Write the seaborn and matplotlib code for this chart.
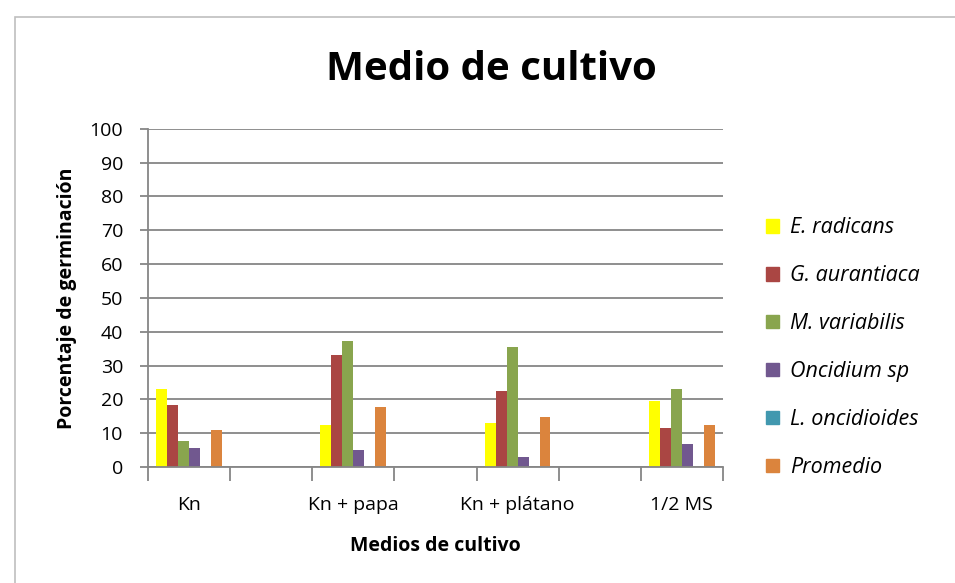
import numpy as np
import pandas as pd
import seaborn as sns
import matplotlib.pyplot as plt
from matplotlib.patches import Rectangle

medios = ['Kn', 'Kn + papa', 'Kn + plátano', '1/2 MS']
especies = ['E. radicans', 'G. aurantiaca', 'M. variabilis', 'Oncidium sp', 'L. oncidioides', 'Promedio']
e_radicans = [23.1, 12.5, 13.1, 19.6]
g_aurantiaca = [18.4, 33.1, 22.5, 11.4]
m_variabilis = [7.8, 37.3, 35.5, 23.1]
oncidium = [5.5, 4.9, 3.1, 6.7]
l_oncidioides = [0, 0, 0, 0]
promedio = [10.8, 17.8, 14.9, 12.5]
colores = ['#FFFF00', '#AA4643', '#89A54E', '#71588F', '#4198AF', '#DB843D']

valores = [e_radicans, g_aurantiaca, m_variabilis, oncidium, l_oncidioides, promedio]
rows = []
for esp, vals in zip(especies, valores):
    for m, v in zip(medios, vals):
        rows.append((m, esp, v))
df = pd.DataFrame(rows, columns=['medio', 'especie', 'pct'])

# Excel deja categorias vacias entre los medios
orden = ['Kn', ' ', 'Kn + papa', '  ', 'Kn + plátano', '   ', '1/2 MS']

sns.set_theme(style='white')
plt.rcParams['font.family'] = ['Open Sans', 'DejaVu Sans']
plt.rcParams['text.color'] = 'black'
plt.rcParams['axes.labelcolor'] = 'black'
gris = '#868686'

fig = plt.figure(figsize=(9.55, 5.83), dpi=100)
ax = fig.add_axes([0.155, 0.199, 0.602, 0.580])
sns.barplot(data=df, x='medio', y='pct', hue='especie', order=orden, hue_order=especies,
            palette=colores, width=0.8, saturation=1, linewidth=0, ax=ax, legend=False)

ax.set_xlim(-0.5, 6.5)
ax.set_ylim(0, 100)
ax.set_yticks(np.arange(0, 101, 10))
ax.yaxis.grid(True, color=gris, linewidth=1.3)
ax.set_axisbelow(True)
ax.tick_params(axis='y', length=6, width=1.3, color=gris, labelcolor='black', direction='out',
               labelsize=14, pad=12, left=True)

ax.set_xticks(np.arange(-0.5, 7, 1))
ax.set_xticklabels([''] * 8)
ax.set_xticks([0, 2, 4, 6], minor=True)
ax.set_xticklabels(medios, minor=True)
ax.tick_params(axis='x', which='major', length=10, width=1.3, color=gris, direction='out', bottom=True)
ax.tick_params(axis='x', which='minor', length=0, labelsize=14, labelcolor='black', pad=21)

for s in ['top', 'right']:
    ax.spines[s].set_visible(False)
for s in ['left', 'bottom']:
    ax.spines[s].set_color(gris)
    ax.spines[s].set_linewidth(1.3)

ax.set_xlabel('Medios de cultivo', fontsize=14, fontweight='bold', labelpad=16)
ax.set_ylabel('Porcentaje de germinación', fontsize=14, fontweight='bold', labelpad=9)

fig.text(491 / 955, 1 - 70 / 583, 'Medio de cultivo', ha='center', va='center',
         fontsize=29, fontweight='bold')

handles = [Rectangle((0, 0), 1, 1, color=c) for c in colores]
ax.legend(handles, especies, loc='upper left', bbox_to_anchor=(747 / 955, 1 - 198 / 583),
          bbox_transform=fig.transFigure, frameon=False,
          prop={'style': 'italic', 'size': 15.5}, handlelength=0.6, handleheight=0.6,
          handletextpad=0.5, labelspacing=1.25)

fig.add_artist(Rectangle((15 / 955, -0.1), 1.2, 1 - 17 / 583 + 0.1, transform=fig.transFigure,
                         fill=False, edgecolor='#BFBFBF', linewidth=1.2))

fig.savefig('out.png', dpi=100)
